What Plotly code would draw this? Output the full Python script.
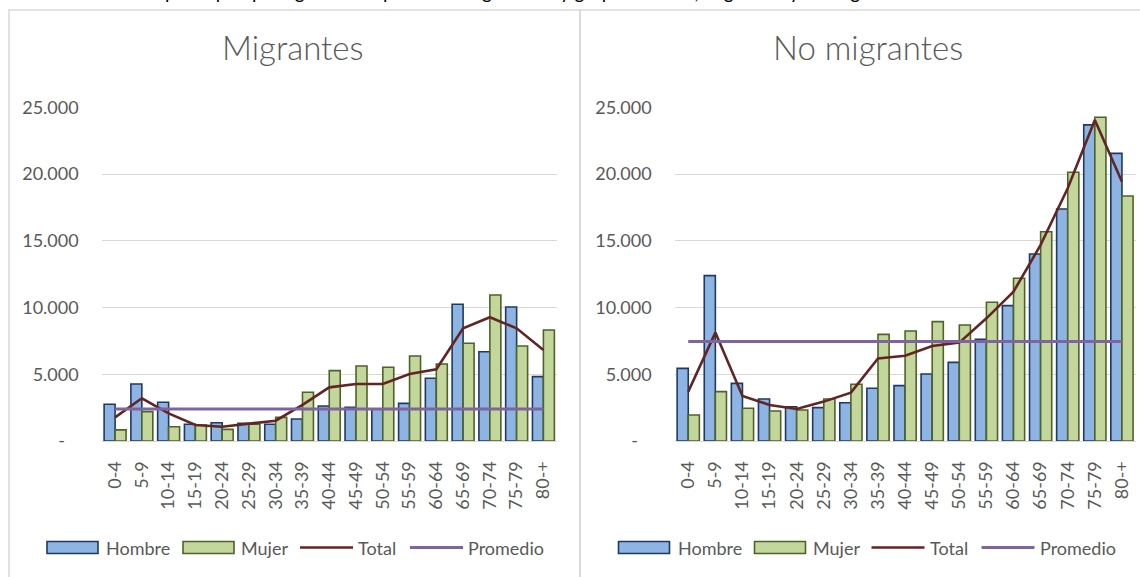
import plotly.graph_objects as go

# ---------------- data ----------------
categories = ["0-4", "5-9", "10-14", "15-19", "20-24", "25-29", "30-34", "35-39",
              "40-44", "45-49", "50-54", "55-59", "60-64", "65-69", "70-74", "75-79", "80-+"]

mig_hombre = [2750, 4270, 2900, 1250, 1370, 1320, 1250, 1650, 2620, 2520, 2400, 2820, 4700, 10240, 6690, 10040, 4820]
mig_mujer = [830, 2200, 1070, 1200, 870, 1250, 1770, 3650, 5270, 5620, 5520, 6370, 5770, 7320, 10940, 7120, 8320]
mig_total = [1770, 3200, 2070, 1200, 1070, 1270, 1520, 2700, 4020, 4270, 4270, 5020, 5370, 8440, 9270, 8440, 6820]
mig_promedio = 2400

nomig_hombre = [5440, 12390, 4320, 3150, 2570, 2500, 2870, 3950, 4150, 5020, 5890, 7620, 10140, 14010, 17380, 23680, 21550]
nomig_mujer = [1950, 3700, 2450, 2250, 2320, 3150, 4250, 7990, 8240, 8940, 8690, 10390, 12190, 15680, 20130, 24250, 18360]
nomig_total = [3700, 8120, 3370, 2700, 2400, 2950, 3620, 6190, 6390, 7120, 7370, 9190, 11190, 14690, 18930, 24050, 19430]
nomig_promedio = 7450

y_tickvals = [0, 5000, 10000, 15000, 20000, 25000]
y_ticktext = ["-\u00a0\u00a0\u00a0", "5.000", "10.000", "15.000", "20.000", "25.000"]

panel_titles = ["Migrantes", "No migrantes"]
legend_names = ["Hombre", "Mujer", "Total", "Promedio"]

# ---------------- style ----------------
W, H = 1140, 577
FONT = "Lato"
TXT = "#595959"
GRID = "#D9D9D9"
C_H, C_H_LINE = "#8DB4E2", "#1F3A60"
C_M, C_M_LINE = "#C3D69B", "#4F6228"
C_T = "#632523"
C_P = "#8064A2"


def px(x):
    return x / W


def py(y):
    return 1 - y / H


fig = go.Figure()

panels = [
    (mig_hombre, mig_mujer, mig_total, mig_promedio, "x", "y"),
    (nomig_hombre, nomig_mujer, nomig_total, nomig_promedio, "x2", "y2"),
]
for hom, muj, tot, prom, xa, ya in panels:
    fig.add_trace(go.Bar(x=categories, y=hom, name="Hombre", xaxis=xa, yaxis=ya,
                         marker=dict(color=C_H, line=dict(color=C_H_LINE, width=1.6)),
                         showlegend=False))
    fig.add_trace(go.Bar(x=categories, y=muj, name="Mujer", xaxis=xa, yaxis=ya,
                         marker=dict(color=C_M, line=dict(color=C_M_LINE, width=1.6)),
                         showlegend=False))
    fig.add_trace(go.Scatter(x=categories, y=tot, name="Total", mode="lines", xaxis=xa, yaxis=ya,
                             line=dict(color=C_T, width=2.6), showlegend=False))
    fig.add_trace(go.Scatter(x=categories, y=[prom] * len(categories), name="Promedio", mode="lines",
                             xaxis=xa, yaxis=ya, line=dict(color=C_P, width=3), showlegend=False))

ydom = [py(441), py(107.3)]
xaxis_common = dict(type="category", tickangle=-90, showgrid=False, showline=True,
                    linecolor=GRID, linewidth=1, ticks="", ticklabelstandoff=12, automargin=False,
                    tickfont=dict(family=FONT, size=18, color=TXT), fixedrange=True)
yaxis_common = dict(range=[0, 25000], tickvals=y_tickvals, ticktext=y_ticktext,
                    showgrid=True, gridcolor=GRID, gridwidth=1, zeroline=False,
                    showline=False, ticks="", ticklabelstandoff=22, automargin=False,
                    tickfont=dict(family=FONT, size=18, color=TXT), domain=ydom, fixedrange=True)

fig.update_layout(
    width=W, height=H,
    margin=dict(l=0, r=0, t=0, b=0, pad=0, autoexpand=False),
    paper_bgcolor="white", plot_bgcolor="white",
    barmode="group", bargap=0.18, bargroupgap=0,
    xaxis=dict(domain=[px(101.7), px(556.8)], anchor="y", **xaxis_common),
    xaxis2=dict(domain=[px(674.7), px(1135.5)], anchor="y2", **xaxis_common),
    yaxis=dict(anchor="x", **yaxis_common),
    yaxis2=dict(anchor="x2", **yaxis_common),
)

shapes = []
annotations = []

# panel borders
shapes.append(dict(type="rect", xref="paper", yref="paper", x0=px(9), x1=px(580), y0=py(600), y1=py(10),
                   line=dict(color=GRID, width=1.5), fillcolor="rgba(0,0,0,0)", layer="below"))
shapes.append(dict(type="rect", xref="paper", yref="paper", x0=px(580), x1=px(1150), y0=py(600), y1=py(10),
                   line=dict(color=GRID, width=1.5), fillcolor="rgba(0,0,0,0)", layer="below"))

# caption on top (clipped by the page edge, as in the reference)
annotations.append(dict(text="Gráfico N°: Gasto per cápita por egresos hospitalarios según sexo y grupo de edad, migrantes y no migrantes",
                        xref="paper", yref="paper", x=px(12), y=1, xanchor="left", yanchor="bottom",
                        yshift=-5, showarrow=False, font=dict(family=FONT, size=19, color="#000000")))

# panel titles
for title, cx in zip(panel_titles, [293, 868]):
    annotations.append(dict(text=title, xref="paper", yref="paper", x=px(cx), y=py(47),
                            xanchor="center", yanchor="middle", showarrow=False,
                            font=dict(family=FONT, size=33, color=TXT, weight=300)))

# custom legends
leg_y = 547.5
for shift in [0, 571.5]:
    shapes.append(dict(type="rect", xref="paper", yref="paper", x0=px(47 + shift), x1=px(98 + shift),
                       y0=py(leg_y + 6), y1=py(leg_y - 6), fillcolor=C_H,
                       line=dict(color=C_H_LINE, width=1.6)))
    shapes.append(dict(type="rect", xref="paper", yref="paper", x0=px(183 + shift), x1=px(234 + shift),
                       y0=py(leg_y + 6), y1=py(leg_y - 6), fillcolor=C_M,
                       line=dict(color=C_M_LINE, width=1.6)))
    shapes.append(dict(type="line", xref="paper", yref="paper", x0=px(300 + shift), x1=px(353 + shift),
                       y0=py(leg_y), y1=py(leg_y), line=dict(color=C_T, width=2.6)))
    shapes.append(dict(type="line", xref="paper", yref="paper", x0=px(410 + shift), x1=px(463 + shift),
                       y0=py(leg_y), y1=py(leg_y), line=dict(color=C_P, width=3)))
    for name, tx in zip(legend_names, [104, 239, 356, 466]):
        annotations.append(dict(text=name, xref="paper", yref="paper", x=px(tx + shift), y=py(leg_y),
                                xanchor="left", yanchor="middle", showarrow=False,
                                font=dict(family=FONT, size=18, color=TXT)))

fig.update_layout(shapes=shapes, annotations=annotations)

fig.write_html("out.html", config={"displayModeBar": False},
               post_script="document.body.style.margin='0';document.body.style.overflow='hidden';")
